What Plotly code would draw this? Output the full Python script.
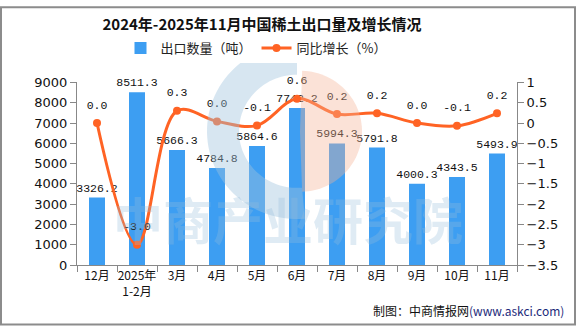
import numpy as np
import plotly.graph_objects as go

# 月份、出口数量（吨）、同比增长
months = ["12月", "2025年<br>1-2月", "3月", "4月", "5月", "6月", "7月", "8月", "9月", "10月", "11月"]
export_tons = [3326.2, 8511.3, 5666.3, 4784.8, 5864.6, 7742.2, 5994.3, 5791.8, 4000.3, 4343.5, 5493.9]
yoy_growth = [0.0, -3.0, 0.3, 0.04, -0.06, 0.6, 0.22, 0.24, 0.0, -0.07, 0.24]

W, H = 576, 327
L, R, T, B = 77, 59, 78, 62
PW, PH = W - L - R, H - T - B

BAR = "#3d9ef2"
LINE = "#ff6324"
CJK = "Noto Sans CJK SC"


def px(x, y):
    """pixel position -> paper coordinates"""
    return (x - L) / PW, (H - B - y) / PH


def ring_path(cx, cy, r_out, r_in, a0, a1, n=60):
    a = np.linspace(np.radians(a0), np.radians(a1), n)
    pts = [px(cx + r_out * np.cos(t), cy - r_out * np.sin(t)) for t in a]
    pts += [px(cx + r_in * np.cos(t), cy - r_in * np.sin(t)) for t in a[::-1]]
    return "M " + " L ".join(f"{p[0]:.4f},{p[1]:.4f}" for p in pts) + " Z"


fig = go.Figure()

fig.add_trace(go.Bar(
    x=months, y=export_tons, name="出口数量（吨）",
    marker=dict(color=BAR, line=dict(width=0)),
    width=0.4,
    texttemplate="%{y:.1f}", textposition="outside", constraintext="none",
    textfont=dict(family="Liberation Mono", size=11.5, color="#111"),
    cliponaxis=False,
))

fig.add_trace(go.Scatter(
    x=months, y=yoy_growth, name="同比增长（%）", yaxis="y2",
    mode="lines+markers",
    line=dict(color=LINE, width=3, shape="spline", smoothing=1.0),
    marker=dict(color=LINE, size=8),
    cliponaxis=False,
))

# growth labels, offset above the points by an invisible marker
fig.add_trace(go.Scatter(
    x=months, y=yoy_growth, yaxis="y2", showlegend=False, hoverinfo="skip",
    mode="markers+text",
    marker=dict(color="rgba(0,0,0,0)", size=17),
    texttemplate="%{y:.1f}", textposition="top center",
    textfont=dict(family="Liberation Mono", size=11.5, color="#111"),
    cliponaxis=False,
))

# watermark logo and text
shapes = [
    dict(type="path", xref="paper", yref="paper", layer="above",
         path=ring_path(297, 128, 90, 58, 90, 275),
         fillcolor="rgba(160,196,222,0.42)", line=dict(width=0)),
    dict(type="path", xref="paper", yref="paper", layer="above",
         path=ring_path(300, 128, 62, 0, -88, 88),
         fillcolor="rgba(244,178,150,0.38)", line=dict(width=0)),
]
# outer border
bx0, by0 = px(1, 1)
bx1, by1 = px(W - 1, H - 1)
shapes.append(dict(type="rect", xref="paper", yref="paper", x0=bx0, y0=by0, x1=bx1, y1=by1,
                   line=dict(color="#8c8c8c", width=2), fillcolor="rgba(0,0,0,0)", layer="above"))

wx, wy = px(288, 256)
fx, fy = px(566, 312)
annotations = [
    dict(xref="paper", yref="paper", x=wx, y=wy, text="<b>中商产业研究院</b>", showarrow=False,
         font=dict(family=CJK, size=50, color="rgba(150,190,220,0.30)")),
    dict(xref="paper", yref="paper", x=fx, y=fy, xanchor="right", yanchor="middle",
         text="制图：中商情报网<span style='color:#1d2a7a'>(www.askci.com)</span>",
         showarrow=False, font=dict(family=CJK, size=12, color="#111")),
]

fig.update_layout(
    width=W, height=H,
    margin=dict(l=L, r=R, t=T, b=B),
    paper_bgcolor="white", plot_bgcolor="white",
    title=dict(text="<b>2024年-2025年11月中国稀土出口量及增长情况</b>",
               x=262 / W, xanchor="center", y=1 - 25 / H, yanchor="middle",
               font=dict(family=CJK, size=15, color="#111")),
    legend=dict(orientation="h", x=256 / W, xanchor="center", y=1 - 48 / H, yanchor="middle",
                xref="container", yref="container",
                font=dict(family=CJK, size=13, color="#222"), itemwidth=30),
    showlegend=True,
    bargap=0.6,
    xaxis=dict(range=[-0.5, len(months) - 0.5], autorange=False,
               showline=True, linecolor="#888", linewidth=1, ticks="outside", ticklen=6,
               tickcolor="#888", tickson="boundaries", showgrid=False, tickangle=0,
               tickfont=dict(family=CJK, size=12, color="#111")),
    yaxis=dict(range=[0, 9000], dtick=1000, showline=True, linecolor="#888", linewidth=1,
               ticks="outside", ticklen=6, tickcolor="#888", showgrid=False, zeroline=False,
               tickfont=dict(family="DejaVu Sans", size=13, color="#111")),
    yaxis2=dict(range=[-3.5, 1], dtick=0.5, overlaying="y", side="right", showline=True,
                linecolor="#888", linewidth=1, ticks="outside", ticklen=6, tickcolor="#888",
                showgrid=False, zeroline=False,
                tickfont=dict(family="DejaVu Sans", size=13, color="#111")),
    shapes=shapes,
    annotations=annotations,
)

fig.write_html("out.html")
